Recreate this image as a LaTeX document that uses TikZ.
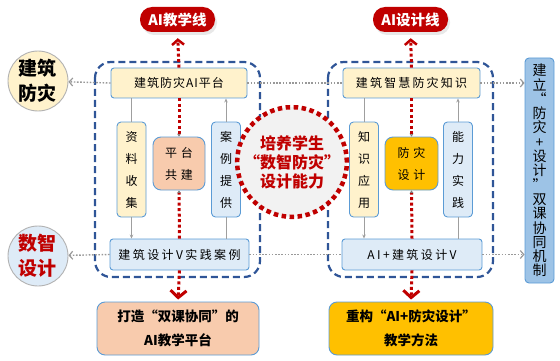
\documentclass[tikz,border=0pt]{standalone}
\usepackage{fontspec}
\setmainfont{Noto Sans CJK SC}
\newfontfamily\kfont{Noto Sans CJK SC}[LetterSpace=8]
\usetikzlibrary{arrows.meta,shadows}
\definecolor{dred}{HTML}{C00000}
\definecolor{dashblue}{HTML}{2F5597}
\definecolor{bdblue}{HTML}{5B9BD5}
\definecolor{lyellow}{HTML}{FFF2CC}
\definecolor{lblue}{HTML}{DEEBF7}
\definecolor{lorange}{HTML}{F8CBAD}
\definecolor{gold}{HTML}{FFC000}
\definecolor{midblue}{HTML}{9DC3E6}
\definecolor{cgray}{HTML}{F2F2F2}
\begin{document}
\begin{tikzpicture}[x=1pt,y=-1pt,
  hbox/.style={draw=bdblue, line width=0.9pt, rounded corners=3pt, inner sep=0pt,
    minimum height=30pt, font=\kfont\fontsize{12}{14}\selectfont},
  vbox/.style={draw=bdblue, line width=0.9pt, rounded corners=4pt, inner sep=0pt,
    minimum width=29pt, minimum height=95pt, align=center,
    font=\kfont\fontsize{12}{22}\selectfont},
  cbox/.style={draw=bdblue, line width=0.9pt, rounded corners=8pt, inner sep=0pt,
    minimum width=52pt, minimum height=53pt, align=center,
    font=\kfont\fontsize{12}{22}\selectfont},
  tbox/.style={draw=bdblue, line width=0.9pt, rounded corners=8pt, inner sep=0pt,
    minimum height=53pt, align=center,
    font=\bfseries\fontsize{13.5}{24}\selectfont},
  pill/.style={fill=dred, rounded corners=12pt, inner sep=0pt, minimum width=75pt,
    minimum height=25pt, text=white, font=\bfseries\fontsize{14.5}{16}\selectfont,
    drop shadow={opacity=0.18, shadow xshift=2pt, shadow yshift=-3pt}},
  sidecirc/.style={circle, draw=gray!60, line width=0.9pt, minimum size=60pt, inner sep=0pt,
    align=center, font=\bfseries\fontsize{19}{25}\selectfont},
  frame/.style={draw=dashblue, line width=2.2pt, dash pattern=on 7pt off 4pt, rounded corners=16pt},
  reddot/.style={draw=dred, line width=3pt, dash pattern=on 3pt off 2.5pt},
  gline/.style={draw=gray!75, line width=0.8pt},
  gdot/.style={draw=gray!80, line width=1.4pt, dash pattern=on 1.6pt off 1.6pt},
  gtip/.style={-{Straight Barb[length=3.5pt,width=8pt,line width=1.2pt]}},
  stip/.style={-{Stealth[length=4pt,width=3.5pt]}}
]
\useasboundingbox (0,0) rectangle (560,361);
% frames
\draw[frame] (95,62) rectangle (260,277);
\draw[frame] (328,62) rectangle (493,277);
% pills
\node[pill] (pL) at (177.5,19.5) {AI教学线};
\node[pill] (pR) at (410.5,19.5) {AI设计线};
% side circles
\node[sidecirc, fill=lyellow] (c1) at (38,81) {建筑\\防灾};
\node[sidecirc, fill=lblue, text=dred] (c2) at (38,256) {数智\\设计};
% left group
\node[hbox, fill=lyellow, minimum width=136pt] (tL) at (179,83) {建筑防灾AI平台};
\node[vbox, fill=lyellow] (zl) at (131.5,169.5) {资\\料\\收\\集};
\node[cbox, fill=lorange] (pt) at (179,163.5) {平\hspace{4pt}台\\共\hspace{4pt}建};
\node[vbox, fill=lblue] (al) at (226,169.5) {案\\例\\提\\供};
\node[hbox, fill=lblue, minimum width=139pt, minimum height=31pt] (bL) at (179.5,254.5) {\addfontfeature{LetterSpace=20}建筑设计V实践案例};
% right group
\node[hbox, fill=lyellow, minimum width=137pt] (tR) at (411.5,83) {\addfontfeature{LetterSpace=18}建筑智慧防灾知识};
\node[vbox, fill=lyellow] (zs) at (364,169.5) {知\\识\\应\\用};
\node[cbox, fill=gold, minimum width=53pt] (fz) at (411.5,163.5) {防\hspace{4pt}灾\\设\hspace{4pt}计};
\node[vbox, fill=lblue] (nl) at (458,169.5) {能\\力\\实\\践};
\node[hbox, fill=lblue, minimum width=140pt, minimum height=31pt] (bR) at (412,254.5) {\addfontfeature{LetterSpace=20}AI+建筑设计V};
% targets
\node[tbox, fill=lorange, minimum width=162pt] (gL) at (178,328.5) {打造“双课协同”的\\AI教学平台};
\node[tbox, fill=gold, minimum width=164pt] (gR) at (411,328.5) {重构“AI+防灾设计”\\教学方法};
% mechanism box
\node[draw=bdblue, line width=0.9pt, fill=midblue, rounded corners=4pt, inner sep=0pt,
  minimum width=29pt, minimum height=225pt, align=center,
  font=\fontsize{14}{14.3}\selectfont] (jl) at (539.5,170.5)
  {建\\立\\“\\防\\灾\\+\\设\\计\\”\\双\\课\\协\\同\\机\\制};
% gray connectors left
\draw[gline] (zl.north |- tL.south) -- (zl.north);
\draw[gline, stip] (zl.south) -- (zl.south |- bL.north);
\draw[gline] (al.south |- bL.north) -- (al.south);
\draw[gline, stip] (al.north) -- (al.north |- tL.south);
% gray connectors right
\draw[gline] (zs.north |- tR.south) -- (zs.north);
\draw[gline, stip] (zs.south) -- (zs.south |- bR.north);
\draw[gline] (nl.south |- bR.north) -- (nl.south);
\draw[gline, stip] (nl.north) -- (nl.north |- tR.south);
% red dotted lines
\draw[reddot, -{Stealth[length=3pt,width=4pt,color=gray]}] (tL.south) -- (pt.north);
\draw[reddot, -{Stealth[length=3pt,width=4pt,color=gray]}] (bL.north) -- (pt.south);
\draw[reddot, -{Stealth[length=3pt,width=4pt,color=gray]}] (tR.south) -- (fz.north);
\draw[reddot, -{Stealth[length=3pt,width=4pt,color=gray]}] (bR.north) -- (fz.south);
\draw[reddot, -{Straight Barb[length=5pt,width=12pt,line width=2.5pt]}, shorten >=6pt] (tL.north) -- (pL.south);
\draw[reddot, -{Straight Barb[length=5pt,width=12pt,line width=2.5pt]}, shorten >=6pt] (tR.north) -- (pR.south);
\draw[reddot, -{Straight Barb[length=7pt,width=16pt,line width=3pt]}, shorten >=2pt] (bL.south) -- (gL.north);
\draw[reddot, -{Straight Barb[length=7pt,width=16pt,line width=3pt]}, shorten >=2pt] (bR.south) -- (gR.north);
% gray dotted horizontal lines
\draw[gdot, gtip] (tL.west) -- (c1);
\draw[gdot] (tL.east) -- (tR.west);
\draw[gdot, gtip] (tR.east) -- (tR.east -| jl.west);
\draw[gdot, gtip] (bL.west) -- (c2);
\draw[gdot] (bL.east) -- (bR.west);
\draw[gdot, gtip] (bR.east) -- (bR.east -| jl.west);
% center circle
\node[circle, draw=dred, fill=cgray, line width=4.5pt, dash pattern=on 4.5pt off 3.5pt,
  minimum size=90pt, inner sep=0pt, align=center, text=dred,
  font=\bfseries\fontsize{16}{19}\selectfont] (cc) at (292,162)
  {培养学生\\“数智防灾”\\设计能力};
\end{tikzpicture}
\end{document}
